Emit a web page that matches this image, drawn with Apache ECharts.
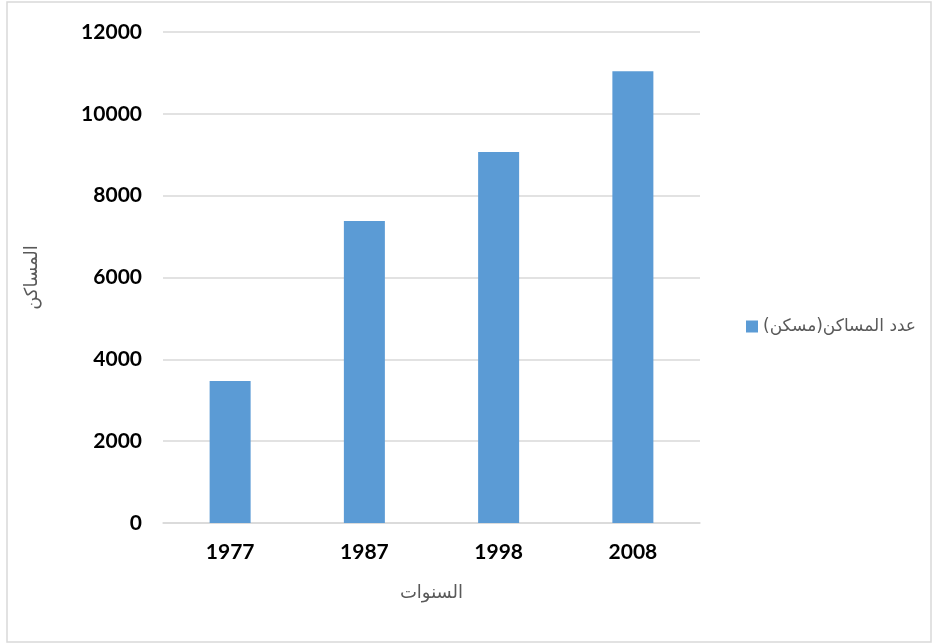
<!DOCTYPE html>
<html>
<head>
<meta charset="utf-8">
<script src="https://cdn.jsdelivr.net/npm/echarts@6/dist/echarts.min.js"></script>
<style>
  html, body { margin: 0; padding: 0; background: #fff; }
  #chart { width: 939px; height: 644px; }
</style>
</head>
<body>
<div id="chart"></div>
<script>
// Number of dwellings per census year
const years = ['1977', '1987', '1998', '2008'];
const dwellings = [3470, 7380, 9070, 11040];
const seriesName = 'عدد المساكن(مسكن)';
const xAxisTitle = 'السنوات';
const yAxisTitle = 'المساكن';

const chart = echarts.init(document.getElementById('chart'));

chart.setOption({
  animation: false,
  backgroundColor: '#ffffff',
  graphic: [{
    type: 'rect',
    shape: { x: 7, y: 2, width: 924, height: 640 },
    style: { fill: 'none', stroke: '#d9d9d9', lineWidth: 1.5 },
    silent: true
  }],
  grid: { left: 163, right: 239, top: 32, bottom: 121 },
  legend: {
    data: [seriesName],
    left: 741,
    top: 313,
    itemWidth: 12,
    itemHeight: 12,
    icon: 'rect',
    textStyle: { color: '#595959', fontSize: 17, fontFamily: 'DejaVu Sans' }
  },
  xAxis: {
    type: 'category',
    data: years,
    name: xAxisTitle,
    nameLocation: 'middle',
    nameGap: 61,
    nameTextStyle: { color: '#595959', fontSize: 18, fontFamily: 'DejaVu Sans' },
    axisLine: { lineStyle: { color: '#d9d9d9', width: 1.5 } },
    axisTick: { show: false },
    axisLabel: { color: '#000', fontSize: 21, fontWeight: 'bold', fontFamily: 'Lato', margin: 19 }
  },
  yAxis: {
    type: 'value',
    min: 0,
    max: 12000,
    interval: 2000,
    name: yAxisTitle,
    nameLocation: 'middle',
    nameGap: 122,
    nameTextStyle: { color: '#595959', fontSize: 18, fontFamily: 'DejaVu Sans' },
    axisLine: { show: false },
    axisTick: { show: false },
    splitLine: { lineStyle: { color: '#d9d9d9', width: 1.5 } },
    axisLabel: {
      color: '#000', fontSize: 21, fontWeight: 'bold', fontFamily: 'Lato', margin: 21,
      formatter: (v) => String(v)
    }
  },
  series: [{
    name: seriesName,
    type: 'bar',
    data: dwellings,
    barWidth: 41,
    itemStyle: { color: '#5b9bd5' }
  }]
});
</script>
</body>
</html>
